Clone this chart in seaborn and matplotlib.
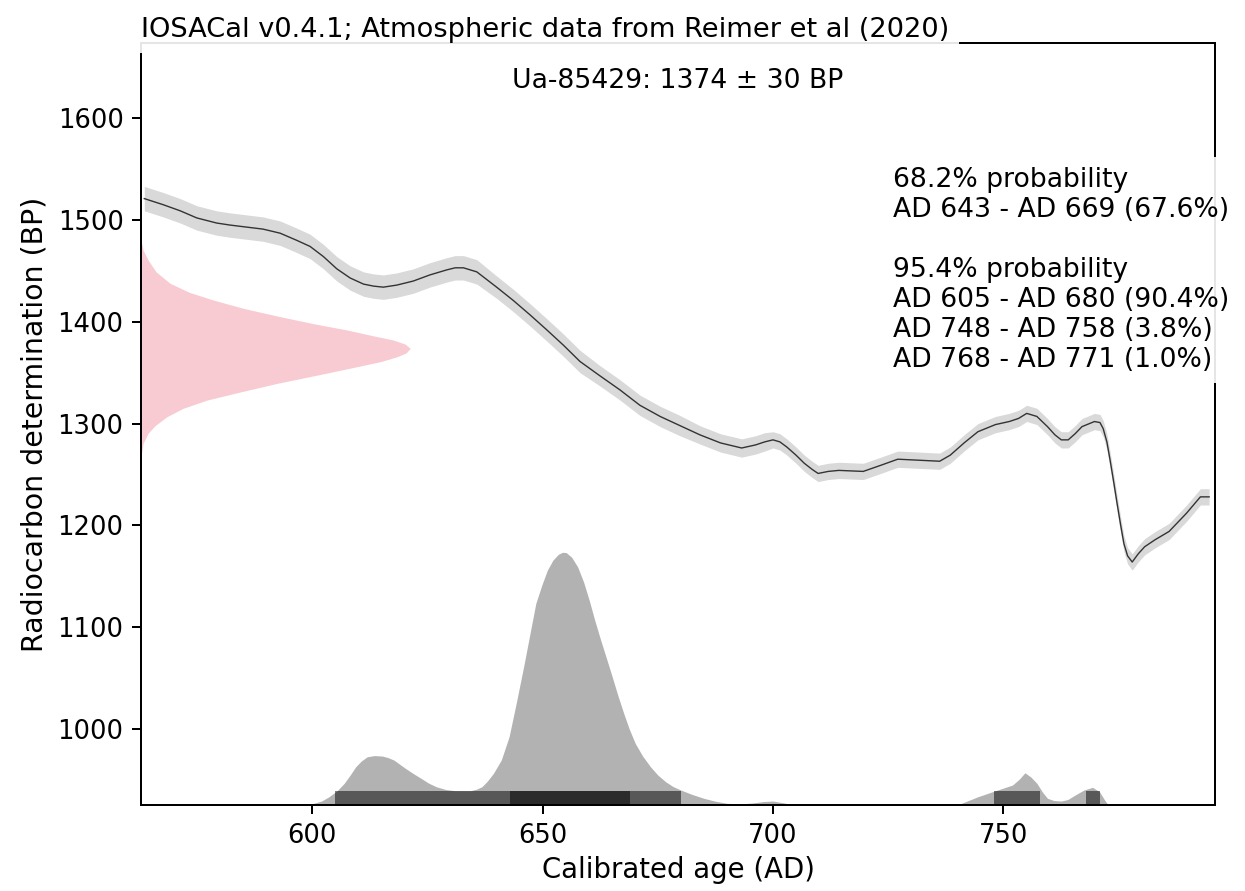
import matplotlib
matplotlib.use("Agg")
import matplotlib.pyplot as plt
import numpy as np
import pandas as pd
import seaborn as sns

# ---------------- data ----------------
# Calibration curve (IntCal20 atmospheric), calendar year AD -> radiocarbon age BP
cal_years = [563.5, 567.6, 571.3, 574.9, 579.2, 582.1, 585.7, 589.3, 593.0, 596.6,
             599.5, 602.4, 605.3, 608.2, 611.1, 613.3, 615.4, 618.3, 621.9, 625.5,
             629.2, 631.0, 632.8, 635.7, 640.0, 643.6, 647.2, 650.9, 654.5, 658.1,
             662.4, 666.8, 671.1, 675.5, 679.8, 684.1, 688.6, 693.2, 696.2, 698.2,
             700.0, 701.5, 703.0, 705.0, 706.8, 708.5, 709.8, 712.0, 714.3, 719.6,
             723.4, 727.1, 731.7, 736.2, 738.5, 741.5, 744.5, 748.3, 751.3, 753.3,
             755.1, 757.3, 759.6, 761.2, 762.6, 764.1, 765.6, 767.1, 769.8, 771.0,
             771.7, 772.5, 773.2, 774.0, 774.7, 775.5, 776.2, 777.0, 778.0, 779.3,
             780.7, 783.0, 786.0, 789.8, 792.8, 794.7]
cal_bp = [1521, 1515, 1509, 1502, 1497, 1495, 1493, 1491, 1487, 1480,
          1474, 1464, 1452, 1443, 1437, 1435, 1434, 1436, 1440, 1446,
          1451, 1453, 1453, 1449, 1434, 1421, 1407, 1392, 1377, 1361,
          1347, 1333, 1318, 1307, 1298, 1289, 1281, 1276, 1279, 1282,
          1284, 1282, 1277, 1269, 1261, 1255, 1251, 1253, 1254, 1253,
          1259, 1265, 1264, 1263, 1269, 1281, 1292, 1299, 1302, 1305,
          1310, 1307, 1297, 1289, 1284, 1284, 1290, 1297, 1302, 1301,
          1295, 1282, 1264, 1242, 1222, 1200, 1182, 1170, 1164, 1172,
          1179, 1186, 1194, 1212, 1228, 1228]
cal_err = [12] * 24 + [11] * 6 + [10] * 5 + [9] * 5 + [8] * 46

# Calibrated (calendar) probability distribution, relative density
pdf_years = [590.0, 597.0, 600.3, 602.0, 603.6, 605.3, 606.9, 608.2, 609.4, 610.6,
             611.9, 613.5, 615.2, 616.4, 617.7, 618.9, 620.2, 621.9, 623.6, 625.2,
             626.9, 629.0, 631.0, 634.3, 635.6, 636.8, 638.0, 639.3, 641.0, 642.7,
             644.3, 646.0, 647.3, 648.5, 649.8, 651.0, 652.2, 653.4, 654.3, 655.1,
             656.3, 657.6, 658.9, 660.1, 661.3, 662.6, 663.9, 665.1, 666.3, 667.6,
             668.8, 670.1, 671.7, 673.4, 675.0, 676.7, 678.3, 680.0, 682.5, 685.0,
             687.5, 690.0, 693.0, 695.5, 698.0, 700.0, 702.5, 704.5, 740.0, 744.5,
             748.3, 752.0, 753.5, 754.7, 756.0, 757.3, 758.5, 759.6, 761.0, 762.6,
             764.0, 765.6, 767.5, 769.4, 770.9, 772.0, 772.8, 780.0]
pdf_density = [0.0, 0.3, 1.7, 4.0, 8.3, 14.0, 21.7, 30.0, 38.3, 44.0,
               48.3, 49.5, 49.0, 47.5, 45.0, 41.0, 36.7, 31.5, 26.7, 22.0,
               18.3, 15.5, 14.3, 14.3, 15.8, 18.3, 24.0, 31.7, 45.0, 68.3,
               103.0, 141.7, 173.0, 201.7, 220.0, 235.0, 245.0, 251.0, 253.0, 252.7,
               248.0, 238.3, 223.0, 205.0, 185.0, 165.0, 146.0, 128.3, 110.0, 91.7,
               76.0, 61.7, 49.0, 38.3, 30.0, 23.3, 18.5, 15.0, 10.5, 6.7,
               3.8, 1.7, 1.2, 2.0, 3.5, 4.0, 2.0, 0.0, 0.0, 8.3,
               14.3, 20.0, 26.0, 32.3, 28.0, 21.7, 13.0, 6.7, 4.5, 4.0,
               5.5, 10.0, 15.0, 17.7, 13.3, 5.0, 0.0, 0.0]

# Radiocarbon determination distribution (1374 +/- 30 BP), relative density
sample_bp = [1480.0, 1470.5, 1460.7, 1449.0, 1437.8, 1429.0, 1421.4, 1413.0, 1405.0, 1398.0,
             1391.9, 1386.0, 1382.1, 1378.0, 1373.9, 1369.5, 1365.7, 1361.0, 1355.9, 1348.0,
             1339.5, 1331.0, 1323.1, 1315.0, 1306.8, 1298.0, 1290.4, 1280.5, 1268.0]
sample_density = [0.0, 2.0, 7.0, 15.0, 29.0, 48.0, 72.0, 103.0, 139.0, 173.0,
                  206.0, 233.0, 252.0, 264.0, 269.0, 265.0, 256.0, 240.0, 216.0, 178.0,
                  136.0, 99.0, 66.0, 42.0, 26.0, 14.0, 7.0, 2.0, 0.0]

ranges_68 = [(643, 669)]
pcts_68 = [67.6]
ranges_95 = [(605, 680), (748, 758), (768, 771)]
pcts_95 = [90.4, 3.8, 1.0]

x_ticks = [600, 650, 700, 750]
y_ticks = [1000, 1100, 1200, 1300, 1400, 1500, 1600]

title_text = "IOSACal v0.4.1; Atmospheric data from Reimer et al (2020)"
sample_label = "Ua-85429: 1374 \u00b1 30 BP"
x_label = "Calibrated age (AD)"
y_label = "Radiocarbon determination (BP)"

# ---------------- styling ----------------
S = 1.8
FS = 19.2
plt.rcParams.update({
    "font.family": ["DejaVu Sans"],
    "font.size": FS,
    "axes.linewidth": 0.8 * S,
    "xtick.major.size": 3.5 * S,
    "ytick.major.size": 3.5 * S,
    "xtick.major.width": 0.8 * S,
    "ytick.major.width": 0.8 * S,
    "xtick.major.pad": 3.5 * S,
    "ytick.major.pad": 3.5 * S,
    "xtick.labelsize": 18.6,
    "ytick.labelsize": 18.6,
    "axes.labelsize": FS,
})

fig = plt.figure(figsize=(12.45, 8.91), dpi=100)
ax1 = fig.add_axes([0.1133, 0.0965, 0.8627, 0.8552])

# calibration curve
curve = pd.DataFrame({"year": cal_years, "bp": cal_bp, "err": cal_err})
ax1.fill_between(curve["year"], curve["bp"] - curve["err"], curve["bp"] + curve["err"],
                 color="k", alpha=0.15, lw=0)
sns.lineplot(data=curve, x="year", y="bp", ax=ax1, color="#333333", linewidth=1.0,
             estimator=None, sort=False)

ax1.set_xlim(562.8, 796.0)
ax1.set_ylim(925.3, 1673.8)
ax1.set_xticks(x_ticks)
ax1.set_yticks(y_ticks)
ax1.set_xlabel(x_label, fontsize=19.8)
ax1.set_ylabel(y_label, fontsize=20.4)
ax1.xaxis.labelpad = 3 * S
ax1.yaxis.labelpad = 3.5 * S

# texts
ax1.text(0.0, 1.0, title_text, ha="left", va="bottom", transform=ax1.transAxes,
         fontsize=19.6,
         bbox=dict(facecolor="white", alpha=0.9, lw=0, pad=4 * S), zorder=10)
ax1.text(0.5, 0.95, sample_label, ha="center", va="center", transform=ax1.transAxes,
         bbox=dict(facecolor="white", alpha=0.9, lw=0, pad=4 * S), zorder=10)
lines = ["68.2% probability"]
for (a, b), p in zip(ranges_68, pcts_68):
    lines.append(f"AD {a} - AD {b} ({p:.1f}%)")
lines.append("")
lines.append("95.4% probability")
for (a, b), p in zip(ranges_95, pcts_95):
    lines.append(f"AD {a} - AD {b} ({p:.1f}%)")
ax1.text(0.70, 0.837, "\n".join(lines), ha="left", va="top", transform=ax1.transAxes,
         bbox=dict(facecolor="white", alpha=0.9, lw=0, pad=4 * S), zorder=10)

# calendar age distribution
ax2 = ax1.twinx()
ax2.fill_between(pdf_years, 0, pdf_density, color="k", alpha=0.3, lw=0)
ax2.set_ylim(0, max(pdf_density) * 3.015)
for a, b in ranges_95:
    ax2.axvspan(a, b, ymin=0, ymax=0.0185, facecolor="k", alpha=0.5, lw=0)
for a, b in ranges_68:
    ax2.axvspan(a, b, ymin=0, ymax=0.0185, facecolor="k", alpha=0.5, lw=0)
ax2.set_axis_off()

# radiocarbon determination distribution
ax3 = ax1.twiny()
ax3.fill_betweenx(sample_bp, 0, sample_density, color="#f8c8d0", alpha=0.95, lw=0)
ax3.set_xlim(0, max(sample_density) * 3.99)
ax3.set_axis_off()

ax1.set_zorder(3)
ax1.patch.set_visible(False)
for a in (ax2, ax3):
    a.set_zorder(1)

fig.savefig("out.png", dpi=100)
